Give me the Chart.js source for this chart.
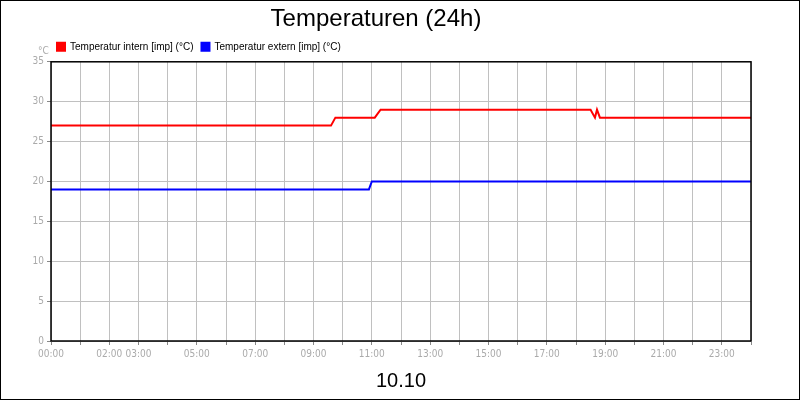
<!DOCTYPE html>
<html>
<head>
<meta charset="utf-8">
<script src="https://cdn.jsdelivr.net/npm/chart.js@4/dist/chart.umd.min.js"></script>
<style>
  body { margin: 0; background: #fff; }
  #wrap { width: 798px; height: 398px; border: 1px solid #000; }
</style>
</head>
<body>
<div id="wrap"><canvas id="c" width="798" height="398"></canvas></div>
<script>
// hours since midnight, 10.10
var internHours = [0, 9.6, 9.75, 11.1, 11.3, 18.5, 18.65, 18.72, 18.82, 24];
var internTemps = [27, 27, 28, 28, 29, 29, 28, 29, 28, 28];
var externHours = [0, 10.9, 11.0, 24];
var externTemps = [19, 19, 20, 20];
var tickLabels = {0: '00:00', 2: '02:00', 3: '03:00', 5: '05:00', 7: '07:00', 9: '09:00', 11: '11:00',
  13: '13:00', 15: '15:00', 17: '17:00', 19: '19:00', 21: '21:00', 23: '23:00'};

function pts(xs, ys) {
  return xs.map(function (x, i) { return {x: x, y: ys[i]}; });
}

var frame = {
  id: 'frame',
  afterLayout: function (chart) {
    chart.legend.left += 48;
    chart.legend.right += 48;
  },
  afterDraw: function (chart) {
    var ctx = chart.ctx, a = chart.chartArea;
    ctx.save();
    ctx.strokeStyle = '#000';
    ctx.lineWidth = 1.5;
    ctx.strokeRect(a.left, a.top, a.right - a.left, a.bottom - a.top);
    ctx.fillStyle = '#aaa';
    ctx.font = '10px "DejaVu Sans Condensed", sans-serif';
    ctx.textAlign = 'left';
    ctx.fillText('°C', 37, 50);
    ctx.restore();
  }
};

new Chart(document.getElementById('c'), {
  type: 'line',
  data: {
    datasets: [{
      label: 'Temperatur intern [imp] (°C)',
      data: pts(internHours, internTemps),
      borderColor: 'red',
      backgroundColor: 'red',
      borderWidth: 2,
      pointRadius: 0,
      fill: false
    }, {
      label: 'Temperatur extern [imp] (°C)',
      data: pts(externHours, externTemps),
      borderColor: 'blue',
      backgroundColor: 'blue',
      borderWidth: 2,
      pointRadius: 0,
      fill: false
    }]
  },
  options: {
    responsive: false,
    animation: false,
    layout: { padding: { left: 0, right: 48, top: 0, bottom: 6 } },
    plugins: {
      title: {
        display: true,
        text: 'Temperaturen (24h)',
        color: '#000',
        font: { family: 'Arial, "Liberation Sans", sans-serif', size: 24, weight: 'normal' },
        padding: { top: 4, bottom: 0 }
      },
      legend: {
        align: 'start',
        labels: {
          color: '#000',
          boxWidth: 8, boxHeight: 8,
          padding: 8,
          font: { family: 'Arial, "Liberation Sans", sans-serif', size: 10 }
        }
      },
      tooltip: { enabled: false }
    },
    scales: {
      x: {
        type: 'linear',
        min: 0, max: 24,
        afterFit: function (s) { s.height = 52; },
        afterBuildTicks: function (s) {
          var t = [];
          for (var h = 0; h <= 24; h++) t.push({value: h});
          s.ticks = t;
        },
        ticks: {
          autoSkip: false,
          maxRotation: 0,
          color: '#aaa',
          font: { family: '"DejaVu Sans Condensed", "Liberation Sans Narrow", sans-serif', size: 10 },
          callback: function (v) { return tickLabels[v] || ''; }
        },
        grid: { color: '#c0c0c0', tickColor: '#888', tickLength: 4 },
        title: {
          display: true, text: '10.10', color: '#000',
          font: { family: 'Arial, "Liberation Sans", sans-serif', size: 20 },
          padding: { top: 8, bottom: 0 }
        }
      },
      y: {
        min: 0, max: 35,
        afterFit: function (s) { s.width = 50; },
        ticks: {
          stepSize: 5,
          color: '#aaa',
          font: { family: '"DejaVu Sans Condensed", "Liberation Sans Narrow", sans-serif', size: 10 }
        },
        grid: { color: '#c0c0c0', tickColor: '#888', tickLength: 4 }
      }
    }
  },
  plugins: [frame]
});
</script>
</body>
</html>
